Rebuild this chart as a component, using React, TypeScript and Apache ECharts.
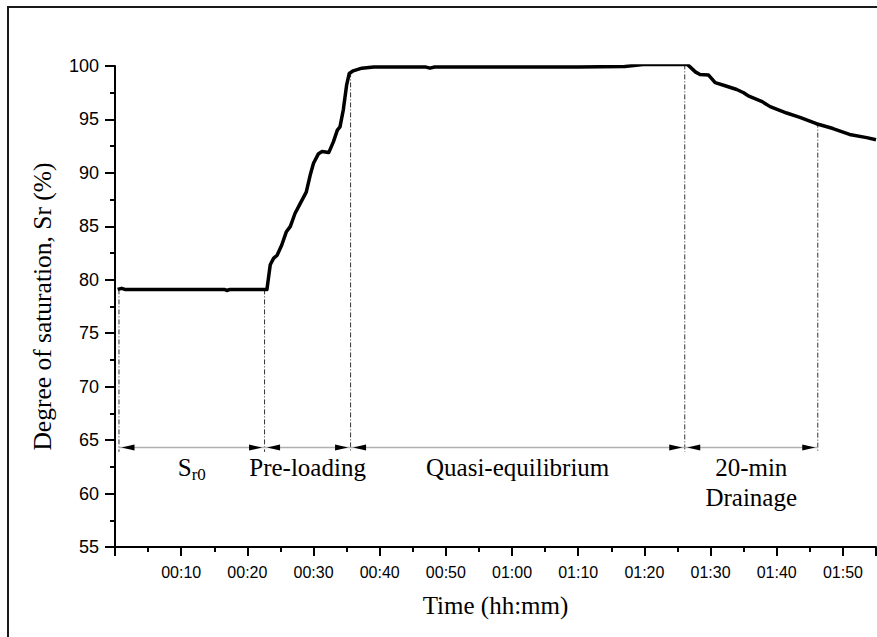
import React, { useEffect, useRef } from "react";
import * as echarts from "echarts";

// Time in minutes from start
const minutes = [
  0.4, 1.0, 1.5, 10, 16.5, 16.9, 17.4, 22.96, 23.46, 23.96, 24.5, 25.2, 25.9, 26.5,
  27.2, 28.0, 28.9, 29.5, 30.0, 30.75, 31.3, 32.3, 33.0, 33.6, 34.0, 34.5, 35.0,
  35.4, 36.0, 37.3, 39.1, 43.1, 47.0, 47.6, 48.3, 60, 70, 77.0, 79.8, 86.5, 87.7,
  88.4, 89.7, 90.7, 92.2, 93.95, 95.0, 95.7, 97.7, 99.0, 101.5, 103.5, 106.0,
  108.5, 111.0, 113.6, 115,
];
// Degree of saturation Sr (%)
const saturation = [
  79.1, 79.2, 79.1, 79.1, 79.1, 79.0, 79.1, 79.1, 81.4, 82.0, 82.3, 83.25, 84.5,
  85.0, 86.2, 87.15, 88.2, 89.8, 90.9, 91.8, 92.0, 91.9, 92.9, 94.0, 94.3, 95.9,
  98.2, 99.3, 99.55, 99.8, 99.9, 99.9, 99.9, 99.8, 99.9, 99.9, 99.9, 99.95,
  100.15, 100.15, 99.45, 99.2, 99.15, 98.45, 98.15, 97.8, 97.5, 97.2, 96.7,
  96.2, 95.6, 95.2, 94.6, 94.15, 93.6, 93.3, 93.1,
];

// Phase boundaries (minutes) and where the dash-dot guides start (Sr)
const boundaries = [0.6, 22.6, 35.6, 86.1, 106.2];
const boundaryTops = [79.1, 79.1, 99.4, 100.15, 94.7];
const guideBottom = 63.9;
const arrowLevel = 64.3;

// Phase labels
const phaseNames = ["Sr0", "Pre-loading", "Quasi-equilibrium", "20-min\nDrainage"];
const phaseLabelY = [62.4, 62.4, 62.4, 61.0];

const xMin = 0;
const xMax = 115;
const xInterval = 10;
const yMin = 55;
const yMax = 100;
const yInterval = 5;

const serif = "'Liberation Serif', 'Times New Roman', serif";
const sans = "'Liberation Sans', Arial, sans-serif";

function fmtTime(v: number): string {
  if (v === 0 || v % 10 !== 0) return "";
  const h = Math.floor(v / 60);
  const m = v % 60;
  return String(h).padStart(2, "0") + ":" + String(m).padStart(2, "0");
}

export default function App() {
  const ref = useRef<HTMLDivElement>(null);

  useEffect(() => {
    document.body.style.margin = "0";
    if (!ref.current) return;
    const chart = echarts.init(ref.current, undefined, { renderer: "svg" });

    const guideSeries = boundaries.map((b, i) => ({
      type: "line",
      name: "guide" + i,
      data: [
        [b, boundaryTops[i]],
        [b, guideBottom],
      ],
      symbol: "none",
      silent: true,
      z: 1,
      lineStyle: { color: "#333", width: 1, type: [5, 2, 1, 2] },
    }));

    const arrowLines = boundaries.slice(0, -1).map((b, i) => ({
      type: "line",
      name: "span" + i,
      data: [
        [b, arrowLevel],
        [boundaries[i + 1], arrowLevel],
      ],
      symbol: "none",
      silent: true,
      z: 1,
      lineStyle: { color: "#b0b0b0", width: 1.5 },
    }));

    const leftHeads = boundaries.slice(0, -1).map((b) => [b, arrowLevel]);
    const rightHeads = boundaries.slice(1).map((b) => [b, arrowLevel]);

    const option = {
      animation: false,
      grid: { left: 115, right: 1, top: 66, bottom: 90, containLabel: false },
      graphic: [
        {
          type: "polyline",
          shape: { points: [[8, 650], [8, 7], [900, 7]] },
          style: { stroke: "#1a1a1a", lineWidth: 2, fill: "none" },
          silent: true,
        },
      ],
      xAxis: {
        type: "value",
        min: xMin,
        max: xMax,
        interval: xInterval,
        name: "Time (hh:mm)",
        nameLocation: "middle",
        nameGap: 46,
        nameTextStyle: { fontFamily: serif, fontSize: 25, color: "#000" },
        axisLine: { show: true, onZero: false, lineStyle: { color: "#000", width: 2 } },
        axisTick: { show: true, inside: false, length: 9, lineStyle: { color: "#000", width: 2 } },
        minorTick: { show: true, splitNumber: 2, length: 5, lineStyle: { color: "#000", width: 2 } },
        splitLine: { show: false },
        minorSplitLine: { show: false },
        axisLabel: {
          formatter: (v: number) => fmtTime(v),
          fontFamily: sans,
          fontSize: 16,
          color: "#000",
          margin: 17,
          showMaxLabel: false,
        },
      },
      yAxis: {
        type: "value",
        min: yMin,
        max: yMax,
        interval: yInterval,
        name: "Degree of saturation, Sr (%)",
        nameLocation: "middle",
        nameGap: 60,
        nameRotate: 90,
        nameTextStyle: { fontFamily: serif, fontSize: 25.5, color: "#000" },
        axisLine: { show: true, onZero: false, lineStyle: { color: "#000", width: 2 } },
        axisTick: { show: true, inside: false, length: 10, lineStyle: { color: "#000", width: 2 } },
        minorTick: { show: true, splitNumber: 2, length: 5, lineStyle: { color: "#000", width: 2 } },
        splitLine: { show: false },
        minorSplitLine: { show: false },
        axisLabel: { fontFamily: sans, fontSize: 18, color: "#000", margin: 16 },
      },
      series: [
        ...guideSeries,
        ...arrowLines,
        {
          type: "scatter",
          name: "leftHeads",
          data: leftHeads,
          symbol: "triangle",
          symbolSize: [6, 13],
          symbolRotate: 90,
          symbolOffset: [9, 0],
          itemStyle: { color: "#000", opacity: 1 },
          silent: true,
          z: 3,
        },
        {
          type: "scatter",
          name: "rightHeads",
          data: rightHeads,
          symbol: "triangle",
          symbolSize: [6, 13],
          symbolRotate: -90,
          symbolOffset: [-9, 0],
          itemStyle: { color: "#000", opacity: 1 },
          silent: true,
          z: 3,
        },
        {
          type: "line",
          name: "Sr",
          data: minutes.map((t, i) => [t, saturation[i]]),
          symbol: "none",
          z: 5,
          lineStyle: { color: "#000", width: 3.5, join: "round" },
        },
        {
          type: "scatter",
          name: "phaseLabels",
          data: phaseNames.map((n, i) => ({
            name: n,
            value: [(boundaries[i] + boundaries[i + 1]) / 2, phaseLabelY[i]],
          })),
          symbolSize: 0,
          silent: true,
          itemStyle: { opacity: 1, color: "#000" },
          label: {
            show: true,
            position: "inside",
            fontFamily: serif,
            fontSize: 25,
            lineHeight: 30,
            color: "#000",
            opacity: 1,
            align: "center",
            verticalAlign: "middle",
            formatter: (p: any) =>
              p.name === "Sr0" ? "{s|S}{sub|r0}" : p.name,
            rich: {
              s: { fontFamily: serif, fontSize: 25, color: "#000", lineHeight: 30 },
              sub: {
                fontFamily: serif,
                fontSize: 17,
                color: "#000",
                padding: [14, 0, 0, 0],
              },
            },
          },
        },
      ],
    };

    chart.setOption(option as any);
    return () => chart.dispose();
  }, []);

  return (
    <div
      ref={ref}
      style={{ position: "fixed", left: 0, top: 0, width: 877, height: 637, background: "#fff" }}
    />
  );
}
